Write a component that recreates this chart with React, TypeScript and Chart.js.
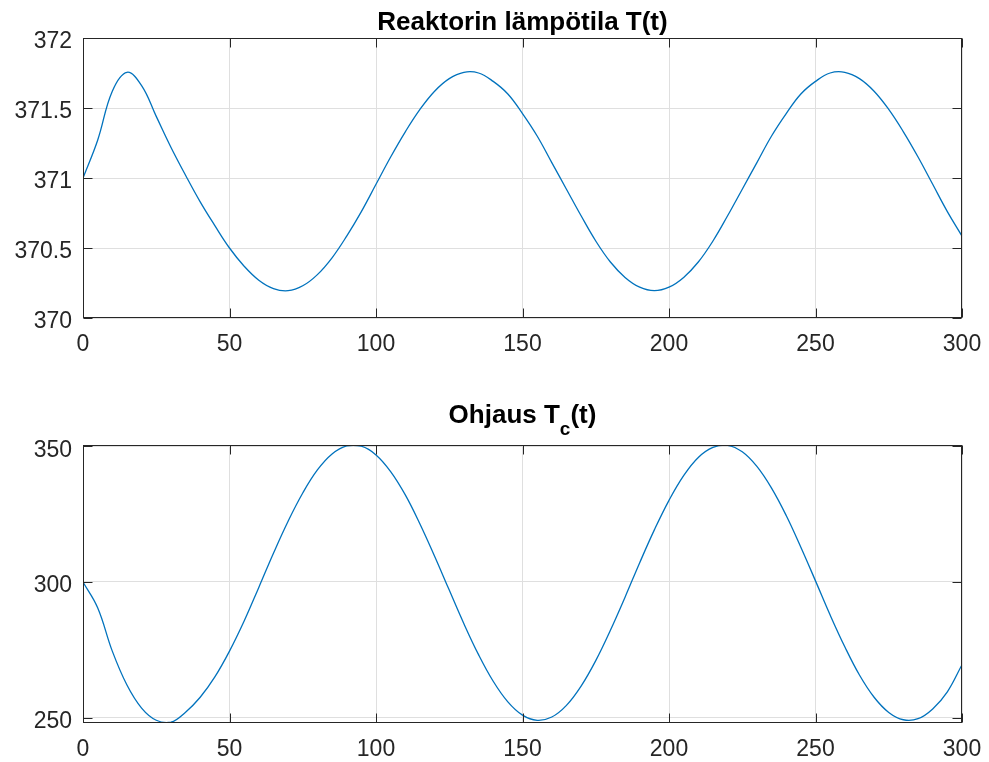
import React, { useEffect, useRef } from 'react';
import { Chart, registerables } from 'chart.js';

Chart.register(...registerables);

// ---- data ----
const timeValues = [
  0, 5, 10, 15, 20, 25, 30, 35, 40, 45, 50, 55, 60, 65, 70, 75, 80, 85, 90, 95,
  100, 105, 110, 115, 120, 125, 130, 135, 140, 145, 150, 155, 160, 165, 170, 175, 180, 185, 190, 195,
  200, 205, 210, 215, 220, 225, 230, 235, 240, 245, 250, 255, 260, 265, 270, 275, 280, 285, 290, 295, 300,
];

const reactorTemp = [
  371.0, 371.27, 371.62, 371.755, 371.66, 371.44, 371.22, 371.02, 370.83, 370.66,
  370.5, 370.37, 370.27, 370.21, 370.195, 370.23, 370.31, 370.43, 370.585, 370.76,
  370.955, 371.15, 371.33, 371.49, 371.62, 371.71, 371.755, 371.75, 371.69, 371.6,
  371.46, 371.3, 371.11, 370.92, 370.73, 370.55, 370.4, 370.29, 370.22, 370.195,
  370.22, 370.29, 370.4, 370.55, 370.73, 370.92, 371.11, 371.3, 371.46, 371.6,
  371.69, 371.75, 371.755, 371.71, 371.62, 371.49, 371.33, 371.15, 370.955, 370.76, 370.585,
];

const controlTemp = [
  300.0, 290.5, 274.5, 262.0, 253.5, 249.0, 248.3, 252.0, 257.5, 265.0,
  274.5, 285.6, 298.0, 310.6, 322.4, 332.8, 341.3, 347.2, 350.2, 350.05,
  346.85, 340.7, 332.1, 321.4, 309.5, 297.0, 284.6, 273.2, 263.4, 255.8,
  250.9, 249.0, 250.2, 254.5, 261.6, 271.0, 282.2, 294.4, 307.1, 319.2,
  330.1, 339.2, 345.9, 349.6, 350.4, 348.0, 342.6, 334.6, 324.5, 312.8,
  300.4, 287.8, 276.1, 265.7, 257.5, 251.9, 249.2, 249.6, 253.2, 259.5, 269.5,
];

const timeTicks = [0, 50, 100, 150, 200, 250, 300];
const reactorTicks = [370, 370.5, 371, 371.5, 372];
const controlTicks = [250, 300, 350];

const reactorTitle = [{ text: 'Reaktorin lämpötila T(t)', sub: false }];
const controlTitle = [
  { text: 'Ohjaus T', sub: false },
  { text: 'c', sub: true },
  { text: '(t)', sub: false },
];

const FONT = '"Liberation Sans", Arial, Helvetica, sans-serif';
const AXIS_COLOR = '#262626';
const LINE_COLOR = '#0072BD';

type TitlePart = { text: string; sub: boolean };

function makeFramePlugin(parts: TitlePart[], baseline: number) {
  return {
    id: 'matlabFrame',
    afterDatasetsDraw(chart: any) {
      const { ctx, chartArea: a, scales } = chart;
      const L = Math.round(a.left) + 0.5;
      const R = Math.round(a.right) - 0.5;
      const T = Math.round(a.top) + 0.5;
      const B = Math.round(a.bottom) - 0.5;
      ctx.save();
      ctx.strokeStyle = AXIS_COLOR;
      ctx.lineWidth = 1;
      ctx.strokeRect(L, T, R - L, B - T);
      const tl = 9;
      ctx.beginPath();
      scales.x.ticks.forEach((t: any) => {
        const px = Math.round(scales.x.getPixelForValue(t.value)) + 0.5;
        ctx.moveTo(px, B);
        ctx.lineTo(px, B - tl);
        ctx.moveTo(px, T);
        ctx.lineTo(px, T + tl);
      });
      scales.y.ticks.forEach((t: any) => {
        const py = Math.round(scales.y.getPixelForValue(t.value)) + 0.5;
        ctx.moveTo(L, py);
        ctx.lineTo(L + tl, py);
        ctx.moveTo(R, py);
        ctx.lineTo(R - tl, py);
      });
      ctx.stroke();

      // title
      ctx.fillStyle = '#000000';
      ctx.textBaseline = 'alphabetic';
      ctx.textAlign = 'left';
      const fontFor = (p: TitlePart) => `bold ${p.sub ? 19 : 26}px ${FONT}`;
      let total = 0;
      parts.forEach((p) => {
        ctx.font = fontFor(p);
        total += ctx.measureText(p.text).width;
      });
      let x = (a.left + a.right) / 2 - total / 2;
      parts.forEach((p) => {
        ctx.font = fontFor(p);
        ctx.fillText(p.text, x, baseline + (p.sub ? 12 : 0));
        x += ctx.measureText(p.text).width;
      });
      ctx.restore();
    },
  };
}

type PanelProps = {
  values: number[];
  yMin: number;
  yMax: number;
  yTicks: number[];
  title: TitlePart[];
  titleBaseline: number;
  plotTop: number;
  xAxisHeight: number;
  height: number;
  top: number;
};

function Panel(props: PanelProps) {
  const ref = useRef<HTMLCanvasElement | null>(null);
  useEffect(() => {
    if (!ref.current) return;
    const points = timeValues.map((t, i) => ({ x: t, y: props.values[i] }));
    const chart = new Chart(ref.current, {
      type: 'line',
      data: {
        datasets: [
          {
            data: points,
            borderColor: LINE_COLOR,
            borderWidth: 1.3,
            pointRadius: 0,
            tension: 0.4,
            fill: false,
          },
        ],
      },
      options: {
        responsive: false,
        maintainAspectRatio: false,
        animation: false,
        events: [],
        layout: { padding: { left: 0, right: 27, top: props.plotTop, bottom: 0 } },
        plugins: { legend: { display: false }, tooltip: { enabled: false }, title: { display: false } },
        scales: {
          x: {
            type: 'linear',
            min: 0,
            max: 300,
            afterBuildTicks: (scale: any) => {
              scale.ticks = timeTicks.map((v) => ({ value: v }));
            },
            afterFit: (scale: any) => {
              scale.height = props.xAxisHeight;
              scale.paddingLeft = 0;
              scale.paddingRight = 0;
            },
            grid: { color: '#dfdfdf', lineWidth: 1, drawTicks: false },
            border: { display: false },
            ticks: {
              color: AXIS_COLOR,
              font: { family: FONT, size: 23 },
              padding: 13,
              maxRotation: 0,
              autoSkip: false,
              callback: (v: any) => String(v),
            },
          },
          y: {
            type: 'linear',
            min: props.yMin,
            max: props.yMax,
            afterBuildTicks: (scale: any) => {
              scale.ticks = props.yTicks.map((v) => ({ value: v }));
            },
            afterFit: (scale: any) => {
              scale.width = 83;
              scale.paddingTop = 0;
              scale.paddingBottom = 0;
            },
            grid: { color: '#dfdfdf', lineWidth: 1, drawTicks: false },
            border: { display: false },
            ticks: {
              color: AXIS_COLOR,
              font: { family: FONT, size: 23 },
              padding: 11,
              labelOffset: 4,
              autoSkip: false,
              callback: (v: any) => String(v),
            },
          },
        },
      } as any,
      plugins: [makeFramePlugin(props.title, props.titleBaseline)],
    });
    return () => chart.destroy();
  }, []);
  return (
    <canvas
      ref={ref}
      width={989}
      height={props.height}
      style={{ position: 'absolute', left: 0, top: props.top, width: 989, height: props.height, display: 'block' }}
    />
  );
}

export default function App() {
  return (
    <div
      style={{
        position: 'absolute',
        left: 0,
        top: 0,
        width: 989,
        height: 762,
        background: '#ffffff',
        overflow: 'hidden',
      }}
    >
      <Panel
        values={reactorTemp}
        yMin={370}
        yMax={372}
        yTicks={reactorTicks}
        title={reactorTitle}
        titleBaseline={30}
        plotTop={38}
        xAxisHeight={62}
        height={380}
        top={0}
      />
      <Panel
        values={controlTemp}
        yMin={248}
        yMax={350.5}
        yTicks={controlTicks}
        title={controlTitle}
        titleBaseline={43}
        plotTop={65}
        xAxisHeight={39}
        height={382}
        top={380}
      />
    </div>
  );
}
